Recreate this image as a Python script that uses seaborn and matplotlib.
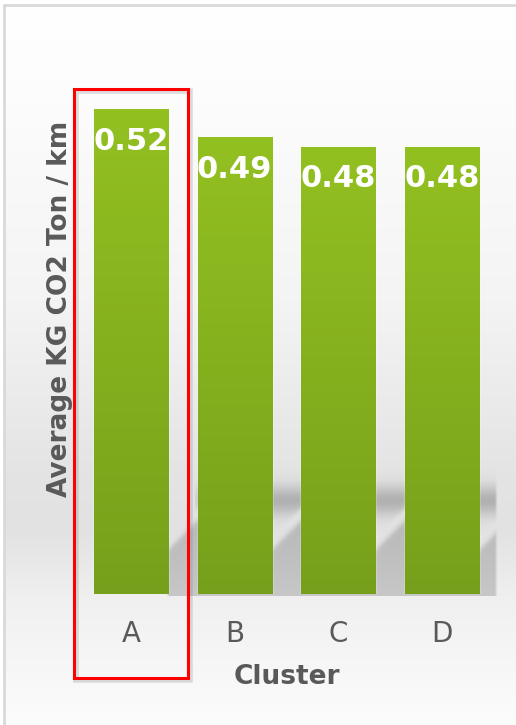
import numpy as np
import pandas as pd
import matplotlib
matplotlib.use("Agg")
import matplotlib.pyplot as plt
from matplotlib.patches import Rectangle
from matplotlib.lines import Line2D
from matplotlib.transforms import IdentityTransform
import seaborn as sns

# ---- data ----
clusters = ["A", "B", "C", "D"]
values = [0.52, 0.49, 0.48, 0.48]
value_labels = ["0.52", "0.49", "0.48", "0.48"]
highlight = "A"

W, H = 516, 725
sns.set_theme(style="white")
plt.rcParams["font.family"] = ["DejaVu Sans"]

fig = plt.figure(figsize=(W / 100, H / 100), dpi=100)
fig.patch.set_facecolor("white")

bg = fig.add_axes([0, 0, 1, 1], zorder=-10)
bg.set_axis_off()

# ---- main axes ----
ax = fig.add_axes([79 / W, 131 / H, 415 / W, 570 / H])
ax.set_facecolor("none")
df = pd.DataFrame({"Cluster": clusters, "Value": values})
sns.barplot(data=df, x="Cluster", y="Value", color="#86b21d", width=0.715,
            saturation=1, ax=ax, errorbar=None)
ax.set_xlim(-0.5, 3.5)
ax.set_ylim(0, 570 / 932)
for s in ax.spines.values():
    s.set_visible(False)
ax.set_yticks([])
ax.tick_params(axis="x", length=0, pad=19, labelsize=20, labelcolor="#595959")
ax.set_xlabel("Cluster", fontsize=19, fontweight="bold", color="#595959", labelpad=11)
ax.set_ylabel("Average KG CO2 Ton / km", fontsize=19, fontweight="bold",
              color="#595959", labelpad=4)

# gradient fill inside each bar
grad = np.linspace(0, 1, 256)[:, None]
top_c = np.array([0x93, 0xc0, 0x21]) / 255
bot_c = np.array([0x76, 0xa0, 0x1b]) / 255
gimg = top_c[None, None, :] * (1 - grad[:, :, None]) + bot_c[None, None, :] * grad[:, :, None]
for p in ax.patches:
    x0, y0, w, h = p.get_x(), p.get_y(), p.get_width(), p.get_height()
    im = ax.imshow(gimg, extent=[x0, x0 + w, y0, y0 + h], origin="upper",
                   aspect="auto", zorder=p.get_zorder() + 0.1)
    im.set_clip_path(p)
ax.set_xlim(-0.5, 3.5)
ax.set_ylim(0, 570 / 932)

for p, lab in zip(ax.patches, value_labels):
    ax.annotate(lab, (p.get_x() + p.get_width() / 2, p.get_height()),
                xytext=(0, -32), textcoords="offset pixels", ha="center",
                va="center", color="white", fontsize=22, fontweight="bold",
                zorder=5)

fig.canvas.draw()
r = fig.canvas.get_renderer()
bbs = [p.get_window_extent(r) for p in ax.patches]
base_y = H - bbs[0].y0                      # baseline in top-down pixels
rights = [b.x1 for b in bbs]
lefts = [b.x0 for b in bbs]

# ---- background gradient + floor shadow (figure level) ----
yy = np.arange(H)[:, None].astype(float)
xx = np.arange(W)[None, :].astype(float)
level = np.interp(yy, [0, 80, 300, 470, 530, 600, 690, 725],
                  [255, 253, 244, 228, 226, 240, 249, 252]) * np.ones_like(xx)
# gap's left bar right edge for each x
r_of_x = np.full_like(xx, -1e4)
for rt in rights:
    r_of_x = np.where(xx >= rt - 1, rt, r_of_x)
s = xx + yy - (r_of_x + (base_y - 51))     # diagonal coordinate
lower = 1 / (1 + np.exp(-(s - 6) / 2.0))
streak_top = 1 / (1 + np.exp((s + 6) / 2.0))
upper = np.exp(-((yy - (base_y - 94)) / 15.0) ** 2) * np.clip((xx - lefts[1] + 4) / 6, 0, 1)
dark = np.maximum(40 * lower, 50 * upper * streak_top)
dark *= (yy <= base_y + 1) * np.clip((rights[-1] + 18 - xx) / 3.0, 0, 1)
dark *= np.clip((xx - rights[0] + 2) / 3.0, 0, 1)
level = level - dark
img = np.repeat((level / 255.0)[:, :, None], 3, axis=2)
img[:6, :, :] = 1.0
img[:, :5, :] = 1.0
bg.imshow(np.clip(img, 0, 1), extent=[0, W, H, 0], aspect="auto", interpolation="bilinear")
bg.set_xlim(0, W)
bg.set_ylim(H, 0)
bg.add_line(Line2D([4, 4], [5, H], color="#d9d9d9", lw=2))
bg.add_line(Line2D([4, W], [5, 5], color="#d9d9d9", lw=2))

# ---- highlight box around the chosen cluster ----
idx = clusters.index(highlight)
bb = bbs[idx]
left, right = bb.x0 - 20, bb.x1 + 20
top = bb.y1 + 20
bottom = H - 678
fig.add_artist(Rectangle((left + 2, bottom - 2), right - left, top - bottom,
                         transform=IdentityTransform(), fill=False,
                         edgecolor="#808080", lw=4, alpha=0.25))
fig.add_artist(Rectangle((left, bottom), right - left, top - bottom,
                         transform=IdentityTransform(), fill=False,
                         edgecolor="#ff0000", lw=2.2))

fig.savefig("out.png", dpi=100)
